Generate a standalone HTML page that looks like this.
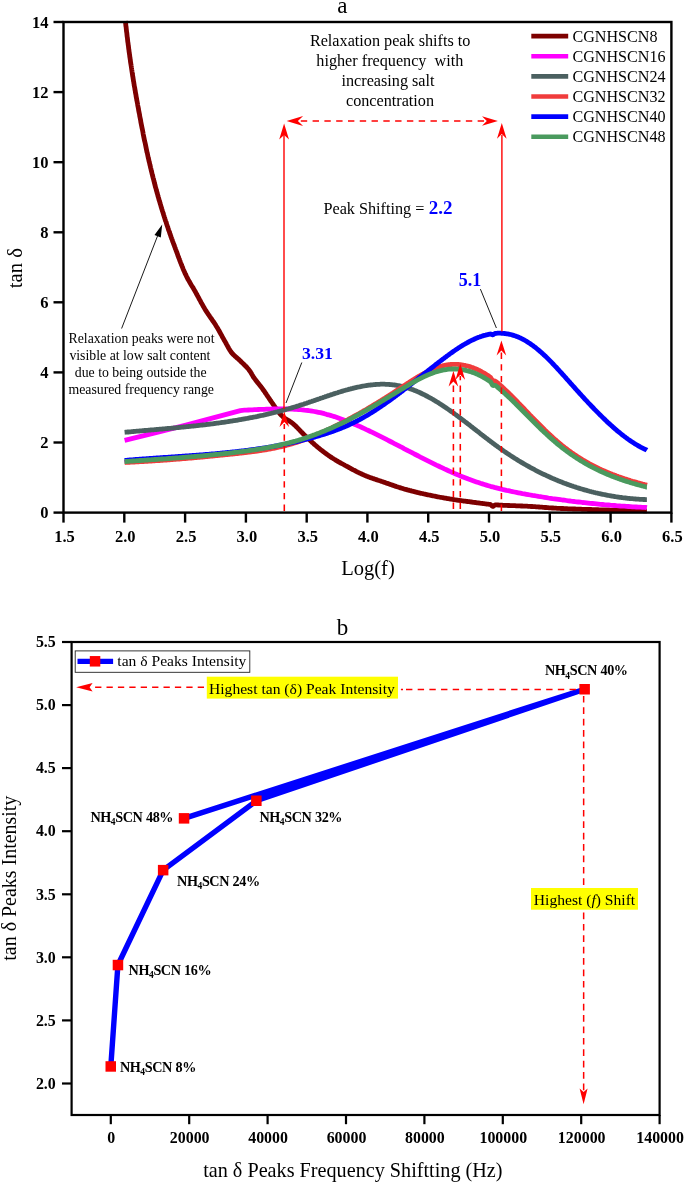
<!DOCTYPE html>
<html><head><meta charset="utf-8"><title>Figure</title>
<style>html,body{margin:0;padding:0;background:#fff}svg{display:block;will-change:transform}</style></head>
<body>
<svg width="685" height="1184" viewBox="0 0 685 1184" font-family="'Liberation Serif', 'Times New Roman', serif">
<rect width="685" height="1184" fill="#fff"/>
<g fill="none" stroke-width="4.8" stroke-linejoin="round" stroke-linecap="butt">
<path d="M125.4,21.0 L125.5,22.0 L125.6,23.0 L125.7,24.0 L125.8,25.0 L125.9,26.0 L126.1,27.0 L126.2,28.0 L126.3,29.0 L126.4,29.9 L126.5,30.9 L126.6,31.9 L126.8,32.9 L126.9,33.9 L127.0,34.9 L127.1,35.9 L127.2,36.9 L127.4,37.9 L127.5,38.9 L127.6,39.9 L127.7,40.9 L127.8,41.9 L128.0,42.9 L128.1,43.8 L128.2,44.8 L128.4,45.8 L128.5,46.8 L128.6,47.8 L128.7,48.8 L128.9,49.8 L129.0,50.8 L129.1,51.8 L129.3,52.8 L129.4,53.8 L129.6,54.7 L129.7,55.7 L129.8,56.7 L130.0,57.7 L130.1,58.7 L130.3,59.7 L130.4,60.7 L130.5,61.7 L130.7,62.7 L130.8,63.7 L131.0,64.6 L131.1,65.6 L131.3,66.6 L131.4,67.6 L131.6,68.6 L131.7,69.6 L131.9,70.6 L132.0,71.6 L132.2,72.6 L132.3,73.5 L132.5,74.5 L132.6,75.5 L132.8,76.5 L133.0,77.5 L133.1,78.5 L133.3,79.5 L133.4,80.5 L133.6,81.4 L133.8,82.4 L133.9,83.4 L134.1,84.4 L134.2,85.4 L134.4,86.4 L134.6,87.4 L134.8,88.3 L134.9,89.3 L135.1,90.3 L135.3,91.3 L135.4,92.3 L135.6,93.3 L135.8,94.3 L136.0,95.2 L136.1,96.2 L136.3,97.2 L136.5,98.2 L136.7,99.2 L136.8,100.2 L137.0,101.1 L137.2,102.1 L137.4,103.1 L137.6,104.1 L137.7,105.1 L137.9,106.1 L138.1,107.0 L138.3,108.0 L138.5,109.0 L138.6,110.0 L138.8,111.0 L139.0,112.0 L139.2,112.9 L139.4,113.9 L139.6,114.9 L139.7,115.9 L139.9,116.9 L140.1,117.9 L140.3,118.8 L140.5,119.8 L140.7,120.8 L140.8,121.8 L141.0,122.8 L141.2,123.8 L141.4,124.7 L141.6,125.7 L141.8,126.7 L142.0,127.7 L142.2,128.7 L142.4,129.6 L142.6,130.6 L142.8,131.6 L143.0,132.6 L143.1,133.6 L143.3,134.6 L143.5,135.5 L143.7,136.5 L143.9,137.5 L144.1,138.5 L144.3,139.5 L144.5,140.4 L144.7,141.4 L145.0,142.4 L145.2,143.4 L145.4,144.3 L145.6,145.3 L145.8,146.3 L146.0,147.3 L146.2,148.3 L146.4,149.2 L146.6,150.2 L146.8,151.2 L147.0,152.2 L147.3,153.1 L147.5,154.1 L147.7,155.1 L147.9,156.1 L148.1,157.1 L148.3,158.0 L148.6,159.0 L148.8,160.0 L149.0,160.9 L149.2,161.9 L149.5,162.9 L149.7,163.9 L149.9,164.8 L150.2,165.8 L150.4,166.8 L150.6,167.8 L150.9,168.7 L151.1,169.7 L151.3,170.7 L151.6,171.7 L151.8,172.6 L152.0,173.6 L152.3,174.6 L152.5,175.5 L152.8,176.5 L153.0,177.5 L153.3,178.4 L153.5,179.4 L153.8,180.4 L154.0,181.3 L154.3,182.3 L154.5,183.3 L154.8,184.3 L155.0,185.2 L155.3,186.2 L155.5,187.2 L155.8,188.1 L156.1,189.1 L156.3,190.0 L156.6,191.0 L156.9,192.0 L157.1,192.9 L157.4,193.9 L157.7,194.9 L157.9,195.8 L158.2,196.8 L158.5,197.7 L158.8,198.7 L159.0,199.7 L159.3,200.6 L159.6,201.6 L159.9,202.5 L160.2,203.5 L160.5,204.5 L160.8,205.4 L161.0,206.4 L161.3,207.3 L161.6,208.3 L161.9,209.3 L162.2,210.2 L162.5,211.2 L162.8,212.1 L163.1,213.1 L163.4,214.0 L163.7,215.0 L164.0,215.9 L164.3,216.9 L164.6,217.8 L164.9,218.8 L165.2,219.7 L165.5,220.7 L165.9,221.6 L166.2,222.6 L166.5,223.5 L166.8,224.5 L167.1,225.4 L167.4,226.4 L167.8,227.3 L168.1,228.3 L168.4,229.2 L168.7,230.2 L169.1,231.1 L169.4,232.1 L169.7,233.0 L170.0,233.9 L170.4,234.9 L170.7,235.8 L171.0,236.8 L171.4,237.7 L171.7,238.7 L172.1,239.6 L172.4,240.5 L172.7,241.5 L173.1,242.4 L173.4,243.4 L173.8,244.3 L174.1,245.2 L174.5,246.2 L174.8,247.1 L175.2,248.0 L175.5,249.0 L175.9,249.9 L176.2,250.9 L176.6,251.8 L176.9,252.7 L177.3,253.7 L177.6,254.6 L177.9,255.6 L178.3,256.5 L178.6,257.4 L179.0,258.4 L179.4,259.3 L179.7,260.3 L180.1,261.2 L180.4,262.1 L180.8,263.1 L181.2,264.0 L181.5,264.9 L181.9,265.9 L182.3,266.8 L182.7,267.7 L183.0,268.6 L183.4,269.6 L183.8,270.5 L184.2,271.4 L184.6,272.3 L185.0,273.2 L185.4,274.1 L185.9,275.0 L186.3,275.9 L186.7,276.8 L187.2,277.7 L187.6,278.6 L188.1,279.5 L188.6,280.3 L189.1,281.2 L189.6,282.1 L190.1,282.9 L190.6,283.8 L191.1,284.7 L191.6,285.5 L192.2,286.4 L192.7,287.2 L193.2,288.1 L193.7,288.9 L194.2,289.8 L194.7,290.7 L195.2,291.6 L195.7,292.4 L196.2,293.3 L196.6,294.2 L197.1,295.1 L197.6,295.9 L198.1,296.8 L198.6,297.7 L199.0,298.6 L199.5,299.5 L200.0,300.3 L200.5,301.2 L200.9,302.1 L201.4,303.0 L201.9,303.8 L202.4,304.7 L202.9,305.6 L203.4,306.5 L203.9,307.3 L204.4,308.2 L204.9,309.0 L205.4,309.9 L205.9,310.7 L206.5,311.6 L207.0,312.4 L207.6,313.2 L208.1,314.1 L208.7,314.9 L209.3,315.7 L209.8,316.5 L210.4,317.4 L211.0,318.2 L211.6,319.0 L212.1,319.8 L212.7,320.7 L213.3,321.5 L213.8,322.3 L214.4,323.1 L215.0,324.0 L215.5,324.8 L216.0,325.7 L216.5,326.5 L217.1,327.4 L217.6,328.2 L218.1,329.1 L218.6,330.0 L219.1,330.8 L219.5,331.7 L220.0,332.6 L220.5,333.4 L221.0,334.3 L221.5,335.2 L222.0,336.1 L222.4,337.0 L222.9,337.8 L223.4,338.7 L223.9,339.6 L224.4,340.5 L224.9,341.3 L225.4,342.2 L225.9,343.1 L226.4,344.0 L226.8,344.8 L227.3,345.7 L227.8,346.6 L228.3,347.5 L228.8,348.4 L229.3,349.2 L229.8,350.1 L230.4,350.9 L230.9,351.7 L231.5,352.5 L232.1,353.3 L232.8,354.0 L233.5,354.7 L234.2,355.4 L234.9,356.1 L235.7,356.8 L236.4,357.4 L237.2,358.1 L238.0,358.8 L238.7,359.4 L239.5,360.1 L240.2,360.8 L240.9,361.5 L241.6,362.2 L242.4,362.9 L243.1,363.6 L243.8,364.3 L244.5,365.0 L245.2,365.7 L246.0,366.4 L246.6,367.1 L247.3,367.9 L248.0,368.6 L248.6,369.4 L249.2,370.2 L249.8,371.0 L250.3,371.8 L250.9,372.6 L251.4,373.5 L251.9,374.4 L252.4,375.2 L252.9,376.1 L253.4,377.0 L254.0,377.8 L254.6,378.6 L255.2,379.4 L255.8,380.2 L256.4,381.0 L257.0,381.8 L257.6,382.6 L258.2,383.3 L258.9,384.1 L259.5,384.9 L260.1,385.7 L260.8,386.5 L261.4,387.3 L262.0,388.0 L262.6,388.9 L263.1,389.7 L263.7,390.5 L264.3,391.3 L264.9,392.1 L265.4,393.0 L266.0,393.8 L266.5,394.6 L267.1,395.5 L267.6,396.3 L268.2,397.1 L268.8,397.9 L269.3,398.8 L269.9,399.6 L270.4,400.4 L271.0,401.3 L271.6,402.1 L272.2,402.9 L272.7,403.7 L273.3,404.5 L273.9,405.4 L274.5,406.2 L275.0,407.0 L275.6,407.9 L276.2,408.7 L276.8,409.6 L277.3,410.4 L277.9,411.2 L278.5,412.0 L279.2,412.8 L279.8,413.5 L280.4,414.3 L281.1,415.0 L281.8,415.7 L282.5,416.3 L283.2,417.0 L284.0,417.6 L284.8,418.2 L285.6,418.7 L286.5,419.3 L287.4,419.8 L288.2,420.4 L289.1,420.9 L289.9,421.4 L290.8,422.0 L291.6,422.6 L292.4,423.2 L293.2,423.8 L293.9,424.5 L294.6,425.1 L295.4,425.8 L296.1,426.5 L296.8,427.2 L297.5,427.9 L298.2,428.6 L298.9,429.4 L299.6,430.1 L300.3,430.8 L301.0,431.6 L301.7,432.3 L302.4,433.0 L303.1,433.7 L303.8,434.4 L304.5,435.1 L305.2,435.8 L306.0,436.5 L306.7,437.2 L307.4,437.9 L308.1,438.6 L308.9,439.2 L309.6,439.9 L310.3,440.6 L311.0,441.3 L311.8,442.0 L312.5,442.7 L313.3,443.3 L314.0,444.0 L314.7,444.7 L315.5,445.3 L316.3,446.0 L317.0,446.6 L317.8,447.3 L318.6,447.9 L319.3,448.5 L320.1,449.2 L320.9,449.8 L321.7,450.4 L322.5,451.0 L323.3,451.6 L324.0,452.2 L324.8,452.8 L325.7,453.4 L326.5,454.0 L327.3,454.6 L328.1,455.2 L328.9,455.8 L329.7,456.3 L330.6,456.9 L331.4,457.4 L332.2,458.0 L333.1,458.5 L333.9,459.0 L334.8,459.5 L335.6,460.1 L336.5,460.6 L337.4,461.1 L338.2,461.6 L339.1,462.1 L340.0,462.6 L340.8,463.1 L341.7,463.5 L342.6,464.0 L343.5,464.5 L344.4,465.0 L345.2,465.5 L346.1,466.0 L347.0,466.4 L347.9,466.9 L348.8,467.4 L349.6,467.9 L350.5,468.3 L351.4,468.8 L352.3,469.3 L353.2,469.8 L354.0,470.2 L354.9,470.7 L355.8,471.2 L356.7,471.6 L357.6,472.1 L358.5,472.5 L359.4,473.0 L360.3,473.4 L361.2,473.8 L362.1,474.2 L363.0,474.6 L363.9,475.0 L364.8,475.4 L365.8,475.8 L366.7,476.2 L367.6,476.5 L368.6,476.9 L369.5,477.3 L370.4,477.6 L371.4,477.9 L372.3,478.3 L373.3,478.6 L374.2,478.9 L375.2,479.2 L376.1,479.6 L377.1,479.9 L378.0,480.2 L379.0,480.5 L379.9,480.8 L380.9,481.1 L381.8,481.5 L382.8,481.8 L383.7,482.1 L384.7,482.4 L385.6,482.8 L386.5,483.1 L387.5,483.4 L388.4,483.7 L389.4,484.1 L390.3,484.4 L391.3,484.7 L392.2,485.1 L393.2,485.4 L394.1,485.7 L395.0,486.1 L396.0,486.4 L396.9,486.7 L397.9,487.0 L398.8,487.3 L399.8,487.6 L400.7,487.9 L401.7,488.2 L402.7,488.5 L403.6,488.8 L404.6,489.1 L405.5,489.3 L406.5,489.6 L407.5,489.9 L408.4,490.1 L409.4,490.4 L410.4,490.6 L411.3,490.9 L412.3,491.2 L413.3,491.4 L414.2,491.6 L415.2,491.9 L416.2,492.1 L417.1,492.4 L418.1,492.6 L419.1,492.8 L420.1,493.1 L421.0,493.3 L422.0,493.5 L423.0,493.7 L424.0,494.0 L424.9,494.2 L425.9,494.4 L426.9,494.6 L427.9,494.8 L428.8,495.0 L429.8,495.2 L430.8,495.4 L431.8,495.6 L432.8,495.8 L433.7,496.0 L434.7,496.2 L435.7,496.4 L436.7,496.6 L437.7,496.8 L438.7,497.0 L439.6,497.2 L440.6,497.3 L441.6,497.5 L442.6,497.7 L443.6,497.9 L444.6,498.1 L445.6,498.2 L446.5,498.4 L447.5,498.6 L448.5,498.7 L449.5,498.9 L450.5,499.1 L451.5,499.2 L452.5,499.4 L453.4,499.5 L454.4,499.7 L455.4,499.8 L456.4,500.0 L457.4,500.1 L458.4,500.3 L459.4,500.4 L460.4,500.6 L461.4,500.7 L462.3,500.8 L463.3,501.0 L464.3,501.1 L465.3,501.2 L466.3,501.4 L467.3,501.5 L468.3,501.6 L469.3,501.7 L470.3,501.9 L471.3,502.0 L472.3,502.1 L473.3,502.3 L474.2,502.4 L475.2,502.5 L476.2,502.6 L477.2,502.8 L478.2,502.9 L479.2,503.0 L480.2,503.2 L481.2,503.3 L482.2,503.4 L483.2,503.6 L484.2,503.7 L485.2,503.8 L486.2,504.0 L487.1,504.1 L488.1,504.2 L489.1,504.3 L490.1,504.4 L491.1,505.0 L492.1,506.0 L493.1,506.4 L494.1,505.6 L495.1,504.8 L496.1,504.9 L497.1,504.9 L498.1,505.0 L499.1,505.1 L500.1,505.1 L501.1,505.2 L502.1,505.2 L503.1,505.3 L504.1,505.3 L505.1,505.3 L506.1,505.4 L507.1,505.4 L508.1,505.5 L509.1,505.5 L510.1,505.6 L511.1,505.6 L512.1,505.6 L513.1,505.7 L514.1,505.7 L515.1,505.7 L516.1,505.8 L517.1,505.8 L518.1,505.9 L519.1,505.9 L520.1,505.9 L521.1,506.0 L522.1,506.0 L523.1,506.1 L524.1,506.1 L525.1,506.1 L526.1,506.2 L527.1,506.2 L528.1,506.3 L529.1,506.3 L530.1,506.4 L531.1,506.5 L532.1,506.5 L533.1,506.6 L534.1,506.7 L535.1,506.7 L536.1,506.8 L537.1,506.9 L538.1,506.9 L539.0,507.0 L540.0,507.1 L541.0,507.2 L542.0,507.2 L543.0,507.3 L544.0,507.4 L545.0,507.5 L546.0,507.5 L547.0,507.6 L548.0,507.7 L549.0,507.8 L550.0,507.8 L551.0,507.9 L552.0,508.0 L553.0,508.0 L554.0,508.1 L555.0,508.2 L556.0,508.2 L557.0,508.3 L558.0,508.3 L559.0,508.4 L560.0,508.4 L561.0,508.5 L562.0,508.5 L563.0,508.5 L564.0,508.6 L565.0,508.6 L566.0,508.7 L567.0,508.7 L568.0,508.8 L569.0,508.8 L570.0,508.8 L571.0,508.9 L572.0,508.9 L573.0,509.0 L574.0,509.0 L575.0,509.0 L576.0,509.1 L577.0,509.1 L578.0,509.1 L579.0,509.2 L580.0,509.2 L581.0,509.2 L582.0,509.3 L583.0,509.3 L584.0,509.3 L585.0,509.4 L586.0,509.4 L587.0,509.4 L588.0,509.5 L589.0,509.5 L590.0,509.5 L591.0,509.5 L592.0,509.6 L593.0,509.6 L594.0,509.6 L595.0,509.7 L596.0,509.7 L597.0,509.7 L598.0,509.7 L599.0,509.8 L600.0,509.8 L601.0,509.8 L602.0,509.9 L603.0,509.9 L604.0,509.9 L605.0,509.9 L606.0,510.0 L607.0,510.0 L608.0,510.0 L609.0,510.0 L610.0,510.1 L611.0,510.1 L612.0,510.1 L613.0,510.1 L614.0,510.2 L615.0,510.2 L616.0,510.2 L617.0,510.2 L618.0,510.3 L619.0,510.3 L620.0,510.3 L621.0,510.3 L622.0,510.3 L623.0,510.4 L624.0,510.4 L625.0,510.4 L626.0,510.4 L627.0,510.4 L628.0,510.5 L629.0,510.5 L630.0,510.5 L631.0,510.5 L632.0,510.6 L633.0,510.6 L634.0,510.6 L635.0,510.6 L636.0,510.6 L637.0,510.6 L638.0,510.7 L639.0,510.7 L640.0,510.7 L641.0,510.7 L642.0,510.7 L643.0,510.7 L644.0,510.8 L645.0,510.8 L646.0,510.8 L646.9,510.8" stroke="#7d0000"/>
<path d="M124.6,440.4 L155.0,432.9 L185.9,425.2 L215.0,417.4 L240.4,410.6 L242.4,410.3 L244.4,410.2 L246.4,410.1 L248.4,410.0 L250.4,409.9 L252.4,409.8 L254.4,409.7 L256.4,409.6 L258.4,409.5 L260.4,409.4 L262.4,409.3 L264.4,409.3 L266.4,409.2 L268.4,409.1 L270.4,409.1 L272.4,409.0 L274.4,409.0 L276.4,409.0 L278.4,409.0 L280.4,409.0 L282.4,409.0 L284.4,409.0 L286.4,409.0 L288.4,409.0 L290.4,409.1 L292.4,409.2 L294.4,409.3 L296.4,409.4 L298.4,409.5 L300.4,409.7 L302.4,409.8 L304.4,410.1 L306.4,410.3 L308.4,410.5 L310.4,410.8 L312.4,411.2 L314.4,411.5 L316.4,411.9 L318.4,412.3 L320.4,412.7 L322.4,413.2 L324.4,413.7 L326.4,414.3 L328.4,414.8 L330.4,415.4 L332.4,416.0 L334.4,416.6 L336.4,417.3 L338.4,418.0 L340.4,418.7 L342.4,419.4 L344.4,420.2 L346.4,420.9 L348.4,421.7 L350.4,422.5 L352.4,423.3 L354.4,424.2 L356.4,425.1 L358.4,425.9 L360.4,426.8 L362.4,427.7 L364.4,428.6 L366.4,429.6 L368.4,430.5 L370.4,431.5 L372.4,432.4 L374.4,433.4 L376.4,434.4 L378.4,435.4 L380.4,436.4 L382.4,437.4 L384.4,438.4 L386.4,439.4 L388.4,440.5 L390.4,441.5 L392.4,442.5 L394.4,443.6 L396.4,444.6 L398.4,445.6 L400.4,446.7 L402.4,447.7 L404.4,448.8 L406.4,449.8 L408.4,450.9 L410.4,451.9 L412.4,452.9 L414.4,454.0 L416.4,455.0 L418.4,456.0 L420.4,457.1 L422.4,458.1 L424.4,459.1 L426.4,460.1 L428.4,461.1 L430.4,462.1 L432.4,463.1 L434.4,464.1 L436.4,465.1 L438.4,466.0 L440.4,467.0 L442.4,467.9 L444.4,468.9 L446.4,469.8 L448.4,470.7 L450.4,471.6 L452.4,472.5 L454.4,473.4 L456.4,474.2 L458.4,475.1 L460.4,475.9 L462.4,476.7 L464.4,477.5 L466.4,478.3 L468.4,479.1 L470.4,479.8 L472.4,480.5 L474.4,481.2 L476.4,481.9 L478.4,482.6 L480.4,483.3 L482.4,483.9 L484.4,484.5 L486.4,485.1 L488.4,485.7 L490.4,486.3 L492.4,486.8 L494.4,487.4 L496.4,487.9 L498.4,488.4 L500.4,488.9 L502.4,489.4 L504.4,489.8 L506.4,490.3 L508.4,490.7 L510.4,491.2 L512.4,491.6 L514.4,492.0 L516.4,492.4 L518.4,492.8 L520.4,493.2 L522.4,493.6 L524.4,493.9 L526.4,494.3 L528.4,494.7 L530.4,495.0 L532.4,495.4 L534.4,495.7 L536.4,496.0 L538.4,496.4 L540.4,496.7 L542.4,497.0 L544.4,497.3 L546.4,497.6 L548.4,498.0 L550.4,498.3 L552.4,498.6 L554.4,498.8 L556.4,499.1 L558.4,499.4 L560.4,499.7 L562.4,500.0 L564.4,500.2 L566.4,500.5 L568.4,500.8 L570.4,501.0 L572.4,501.3 L574.4,501.5 L576.4,501.8 L578.4,502.0 L580.4,502.2 L582.4,502.5 L584.4,502.7 L586.4,502.9 L588.4,503.1 L590.4,503.3 L592.4,503.5 L594.4,503.7 L596.4,503.9 L598.4,504.1 L600.4,504.3 L602.4,504.5 L604.4,504.7 L606.4,504.8 L608.4,505.0 L610.4,505.2 L612.4,505.3 L614.4,505.5 L616.4,505.7 L618.4,505.8 L620.4,506.0 L622.4,506.1 L624.4,506.2 L626.4,506.4 L628.4,506.5 L630.4,506.6 L632.4,506.8 L634.4,506.9 L636.4,507.0 L638.4,507.1 L640.4,507.2 L642.4,507.3 L644.4,507.4 L646.4,507.5 L646.9,507.6" stroke="#ff00ff"/>
<path d="M124.6,432.3 L125.6,432.2 L126.6,432.1 L127.6,432.0 L128.6,432.0 L129.6,431.9 L130.6,431.8 L131.6,431.7 L132.6,431.6 L133.6,431.5 L134.6,431.4 L135.6,431.3 L136.6,431.2 L137.6,431.2 L138.6,431.1 L139.6,431.0 L140.6,430.9 L141.6,430.8 L142.6,430.7 L143.6,430.6 L144.6,430.5 L145.6,430.5 L146.6,430.4 L147.6,430.3 L148.6,430.2 L149.6,430.1 L150.6,430.0 L151.6,429.9 L152.6,429.9 L153.6,429.8 L154.6,429.7 L155.6,429.6 L156.6,429.5 L157.6,429.4 L158.6,429.3 L159.6,429.2 L160.6,429.2 L161.6,429.1 L162.6,429.0 L163.6,428.9 L164.6,428.8 L165.6,428.7 L166.6,428.6 L167.6,428.5 L168.6,428.4 L169.6,428.4 L170.6,428.3 L171.6,428.2 L172.6,428.1 L173.6,428.0 L174.6,427.9 L175.6,427.8 L176.6,427.7 L177.6,427.6 L178.6,427.5 L179.6,427.4 L180.6,427.3 L181.6,427.2 L182.6,427.1 L183.6,427.0 L184.6,426.9 L185.6,426.8 L186.6,426.7 L187.6,426.6 L188.6,426.5 L189.6,426.4 L190.6,426.3 L191.6,426.2 L192.6,426.1 L193.6,426.0 L194.6,425.9 L195.6,425.8 L196.6,425.7 L197.6,425.6 L198.6,425.4 L199.6,425.3 L200.6,425.2 L201.6,425.1 L202.6,425.0 L203.6,424.9 L204.6,424.8 L205.6,424.6 L206.6,424.5 L207.6,424.4 L208.6,424.3 L209.6,424.1 L210.6,424.0 L211.6,423.9 L212.6,423.8 L213.6,423.6 L214.6,423.5 L215.6,423.4 L216.6,423.2 L217.6,423.1 L218.6,423.0 L219.6,422.8 L220.6,422.7 L221.6,422.5 L222.6,422.4 L223.6,422.3 L224.6,422.1 L225.6,422.0 L226.6,421.8 L227.6,421.7 L228.6,421.5 L229.6,421.4 L230.6,421.2 L231.6,421.1 L232.6,420.9 L233.6,420.7 L234.6,420.6 L235.6,420.4 L236.6,420.3 L237.6,420.1 L238.6,419.9 L239.6,419.7 L240.6,419.6 L241.6,419.4 L242.6,419.2 L243.6,419.0 L244.6,418.9 L245.6,418.7 L246.6,418.5 L247.6,418.3 L248.6,418.1 L249.6,417.9 L250.6,417.7 L251.6,417.6 L252.6,417.4 L253.6,417.2 L254.6,417.0 L255.6,416.8 L256.6,416.6 L257.6,416.4 L258.6,416.1 L259.6,415.9 L260.6,415.7 L261.6,415.5 L262.6,415.3 L263.6,415.1 L264.6,414.8 L265.6,414.6 L266.6,414.4 L267.6,414.2 L268.6,413.9 L269.6,413.7 L270.6,413.5 L271.6,413.2 L272.6,413.0 L273.6,412.7 L274.6,412.5 L275.6,412.2 L276.6,412.0 L277.6,411.7 L278.6,411.5 L279.6,411.2 L280.6,411.0 L281.6,410.7 L282.6,410.4 L283.6,410.2 L284.6,409.9 L285.6,409.6 L286.6,409.3 L287.6,409.0 L288.6,408.8 L289.6,408.5 L290.6,408.2 L291.6,407.9 L292.6,407.6 L293.6,407.3 L294.6,407.0 L295.6,406.7 L296.6,406.4 L297.6,406.1 L298.6,405.8 L299.6,405.4 L300.6,405.1 L301.6,404.8 L302.6,404.5 L303.6,404.2 L304.6,403.8 L305.6,403.5 L306.6,403.2 L307.6,402.8 L308.6,402.5 L309.6,402.1 L310.6,401.8 L311.6,401.5 L312.6,401.1 L313.6,400.8 L314.6,400.4 L315.6,400.1 L316.6,399.7 L317.6,399.4 L318.6,399.0 L319.6,398.7 L320.6,398.3 L321.6,398.0 L322.6,397.7 L323.6,397.3 L324.6,397.0 L325.6,396.6 L326.6,396.3 L327.6,395.9 L328.6,395.6 L329.6,395.3 L330.6,394.9 L331.6,394.6 L332.6,394.3 L333.6,393.9 L334.6,393.6 L335.6,393.3 L336.6,393.0 L337.6,392.7 L338.6,392.3 L339.6,392.0 L340.6,391.7 L341.6,391.4 L342.6,391.1 L343.6,390.8 L344.6,390.5 L345.6,390.2 L346.6,390.0 L347.6,389.7 L348.6,389.4 L349.6,389.1 L350.6,388.9 L351.6,388.6 L352.6,388.4 L353.6,388.1 L354.6,387.9 L355.6,387.7 L356.6,387.4 L357.6,387.2 L358.6,387.0 L359.6,386.8 L360.6,386.6 L361.6,386.4 L362.6,386.2 L363.6,386.0 L364.6,385.8 L365.6,385.7 L366.6,385.5 L367.6,385.4 L368.6,385.2 L369.6,385.1 L370.6,385.0 L371.6,384.9 L372.6,384.8 L373.6,384.7 L374.6,384.6 L375.6,384.5 L376.6,384.4 L377.6,384.4 L378.6,384.3 L379.6,384.3 L380.6,384.2 L381.6,384.2 L382.6,384.2 L383.6,384.2 L384.6,384.2 L385.6,384.3 L386.6,384.3 L387.6,384.3 L388.6,384.4 L389.6,384.5 L390.6,384.6 L391.6,384.6 L392.6,384.8 L393.6,384.9 L394.6,385.0 L395.6,385.1 L396.6,385.3 L397.6,385.5 L398.6,385.7 L399.6,385.9 L400.6,386.1 L401.6,386.3 L402.6,386.5 L403.6,386.8 L404.6,387.0 L405.6,387.3 L406.6,387.6 L407.6,387.9 L408.6,388.2 L409.6,388.6 L410.6,388.9 L411.6,389.3 L412.6,389.6 L413.6,390.0 L414.6,390.4 L415.6,390.8 L416.6,391.2 L417.6,391.7 L418.6,392.1 L419.6,392.5 L420.6,393.0 L421.6,393.5 L422.6,394.0 L423.6,394.4 L424.6,394.9 L425.6,395.5 L426.6,396.0 L427.6,396.5 L428.6,397.1 L429.6,397.6 L430.6,398.2 L431.6,398.7 L432.6,399.3 L433.6,399.9 L434.6,400.5 L435.6,401.1 L436.6,401.7 L437.6,402.3 L438.6,402.9 L439.6,403.6 L440.6,404.2 L441.6,404.9 L442.6,405.5 L443.6,406.2 L444.6,406.9 L445.6,407.5 L446.6,408.2 L447.6,408.9 L448.6,409.6 L449.6,410.3 L450.6,411.0 L451.6,411.7 L452.6,412.4 L453.6,413.1 L454.6,413.9 L455.6,414.6 L456.6,415.3 L457.6,416.1 L458.6,416.8 L459.6,417.6 L460.6,418.3 L461.6,419.1 L462.6,419.8 L463.6,420.6 L464.6,421.4 L465.6,422.1 L466.6,422.9 L467.6,423.7 L468.6,424.4 L469.6,425.2 L470.6,426.0 L471.6,426.8 L472.6,427.5 L473.6,428.3 L474.6,429.1 L475.6,429.9 L476.6,430.7 L477.6,431.4 L478.6,432.2 L479.6,433.0 L480.6,433.8 L481.6,434.6 L482.6,435.3 L483.6,436.1 L484.6,436.9 L485.6,437.7 L486.6,438.4 L487.6,439.2 L488.6,440.0 L489.6,440.7 L490.6,441.5 L491.6,442.2 L492.6,443.0 L493.6,443.7 L494.6,444.5 L495.6,445.2 L496.6,445.9 L497.6,446.7 L498.6,447.4 L499.6,448.1 L500.6,448.8 L501.6,449.5 L502.6,450.2 L503.6,450.9 L504.6,451.6 L505.6,452.3 L506.6,453.0 L507.6,453.6 L508.6,454.3 L509.6,454.9 L510.6,455.6 L511.6,456.3 L512.6,456.9 L513.6,457.5 L514.6,458.2 L515.6,458.8 L516.6,459.4 L517.6,460.0 L518.6,460.7 L519.6,461.3 L520.6,461.9 L521.6,462.5 L522.6,463.0 L523.6,463.6 L524.6,464.2 L525.6,464.8 L526.6,465.4 L527.6,465.9 L528.6,466.5 L529.6,467.0 L530.6,467.6 L531.6,468.1 L532.6,468.7 L533.6,469.2 L534.6,469.7 L535.6,470.3 L536.6,470.8 L537.6,471.3 L538.6,471.8 L539.6,472.3 L540.6,472.8 L541.6,473.3 L542.6,473.8 L543.6,474.3 L544.6,474.7 L545.6,475.2 L546.6,475.7 L547.6,476.1 L548.6,476.6 L549.6,477.0 L550.6,477.5 L551.6,477.9 L552.6,478.4 L553.6,478.8 L554.6,479.2 L555.6,479.7 L556.6,480.1 L557.6,480.5 L558.6,480.9 L559.6,481.3 L560.6,481.7 L561.6,482.1 L562.6,482.5 L563.6,482.9 L564.6,483.3 L565.6,483.6 L566.6,484.0 L567.6,484.4 L568.6,484.7 L569.6,485.1 L570.6,485.4 L571.6,485.8 L572.6,486.1 L573.6,486.5 L574.6,486.8 L575.6,487.1 L576.6,487.5 L577.6,487.8 L578.6,488.1 L579.6,488.4 L580.6,488.7 L581.6,489.0 L582.6,489.3 L583.6,489.6 L584.6,489.9 L585.6,490.2 L586.6,490.4 L587.6,490.7 L588.6,491.0 L589.6,491.3 L590.6,491.5 L591.6,491.8 L592.6,492.0 L593.6,492.3 L594.6,492.5 L595.6,492.8 L596.6,493.0 L597.6,493.2 L598.6,493.5 L599.6,493.7 L600.6,493.9 L601.6,494.1 L602.6,494.3 L603.6,494.5 L604.6,494.7 L605.6,494.9 L606.6,495.1 L607.6,495.3 L608.6,495.5 L609.6,495.7 L610.6,495.9 L611.6,496.0 L612.6,496.2 L613.6,496.4 L614.6,496.5 L615.6,496.7 L616.6,496.8 L617.6,497.0 L618.6,497.1 L619.6,497.3 L620.6,497.4 L621.6,497.5 L622.6,497.7 L623.6,497.8 L624.6,497.9 L625.6,498.0 L626.6,498.1 L627.6,498.3 L628.6,498.4 L629.6,498.5 L630.6,498.6 L631.6,498.6 L632.6,498.7 L633.6,498.8 L634.6,498.9 L635.6,499.0 L636.6,499.1 L637.6,499.1 L638.6,499.2 L639.6,499.3 L640.6,499.3 L641.6,499.4 L642.6,499.4 L643.6,499.5 L644.6,499.5 L645.6,499.6 L646.6,499.6 L646.9,499.6" stroke="#4b6060"/>
<path d="M124.6,462.5 L125.6,462.4 L126.6,462.4 L127.6,462.4 L128.6,462.3 L129.6,462.3 L130.6,462.2 L131.6,462.2 L132.6,462.1 L133.6,462.1 L134.6,462.0 L135.6,461.9 L136.6,461.9 L137.6,461.8 L138.6,461.8 L139.6,461.7 L140.6,461.7 L141.6,461.6 L142.6,461.6 L143.6,461.5 L144.6,461.4 L145.6,461.4 L146.6,461.3 L147.6,461.3 L148.6,461.2 L149.6,461.1 L150.6,461.1 L151.6,461.0 L152.6,460.9 L153.6,460.9 L154.6,460.8 L155.6,460.7 L156.6,460.7 L157.6,460.6 L158.6,460.5 L159.6,460.5 L160.6,460.4 L161.6,460.3 L162.6,460.3 L163.6,460.2 L164.6,460.1 L165.6,460.0 L166.6,460.0 L167.6,459.9 L168.6,459.8 L169.6,459.8 L170.6,459.7 L171.6,459.6 L172.6,459.5 L173.6,459.4 L174.6,459.4 L175.6,459.3 L176.6,459.2 L177.6,459.1 L178.6,459.1 L179.6,459.0 L180.6,458.9 L181.6,458.8 L182.6,458.7 L183.6,458.6 L184.6,458.6 L185.6,458.5 L186.6,458.4 L187.6,458.3 L188.6,458.2 L189.6,458.1 L190.6,458.1 L191.6,458.0 L192.6,457.9 L193.6,457.8 L194.6,457.7 L195.6,457.6 L196.6,457.5 L197.6,457.4 L198.6,457.3 L199.6,457.3 L200.6,457.2 L201.6,457.1 L202.6,457.0 L203.6,456.9 L204.6,456.8 L205.6,456.7 L206.6,456.6 L207.6,456.5 L208.6,456.4 L209.6,456.3 L210.6,456.2 L211.6,456.1 L212.6,456.0 L213.6,455.9 L214.6,455.8 L215.6,455.7 L216.6,455.6 L217.6,455.5 L218.6,455.4 L219.6,455.3 L220.6,455.2 L221.6,455.1 L222.6,455.0 L223.6,454.9 L224.6,454.8 L225.6,454.7 L226.6,454.6 L227.6,454.5 L228.6,454.4 L229.6,454.3 L230.6,454.2 L231.6,454.1 L232.6,454.0 L233.6,453.9 L234.6,453.8 L235.6,453.7 L236.6,453.6 L237.6,453.5 L238.6,453.4 L239.6,453.2 L240.6,453.1 L241.6,453.0 L242.6,452.9 L243.6,452.8 L244.6,452.7 L245.6,452.6 L246.6,452.4 L247.6,452.3 L248.6,452.2 L249.6,452.1 L250.6,451.9 L251.6,451.8 L252.6,451.7 L253.6,451.6 L254.6,451.4 L255.6,451.3 L256.6,451.1 L257.6,451.0 L258.6,450.9 L259.6,450.7 L260.6,450.6 L261.6,450.4 L262.6,450.2 L263.6,450.1 L264.6,449.9 L265.6,449.8 L266.6,449.6 L267.6,449.4 L268.6,449.2 L269.6,449.1 L270.6,448.9 L271.6,448.7 L272.6,448.5 L273.6,448.3 L274.6,448.1 L275.6,447.9 L276.6,447.7 L277.6,447.5 L278.6,447.2 L279.6,447.0 L280.6,446.8 L281.6,446.6 L282.6,446.3 L283.6,446.1 L284.6,445.8 L285.6,445.6 L286.6,445.3 L287.6,445.0 L288.6,444.8 L289.6,444.5 L290.6,444.2 L291.6,443.9 L292.6,443.6 L293.6,443.3 L294.6,443.0 L295.6,442.7 L296.6,442.4 L297.6,442.1 L298.6,441.7 L299.6,441.4 L300.6,441.0 L301.6,440.7 L302.6,440.3 L303.6,440.0 L304.6,439.6 L305.6,439.2 L306.6,438.8 L307.6,438.4 L308.6,438.1 L309.6,437.7 L310.6,437.2 L311.6,436.8 L312.6,436.4 L313.6,436.0 L314.6,435.6 L315.6,435.2 L316.6,434.7 L317.6,434.3 L318.6,433.8 L319.6,433.4 L320.6,433.0 L321.6,432.5 L322.6,432.1 L323.6,431.6 L324.6,431.1 L325.6,430.7 L326.6,430.2 L327.6,429.8 L328.6,429.3 L329.6,428.8 L330.6,428.3 L331.6,427.9 L332.6,427.4 L333.6,426.9 L334.6,426.4 L335.6,425.9 L336.6,425.4 L337.6,424.9 L338.6,424.4 L339.6,423.9 L340.6,423.4 L341.6,422.9 L342.6,422.4 L343.6,421.9 L344.6,421.3 L345.6,420.8 L346.6,420.3 L347.6,419.8 L348.6,419.2 L349.6,418.7 L350.6,418.2 L351.6,417.6 L352.6,417.1 L353.6,416.5 L354.6,416.0 L355.6,415.4 L356.6,414.9 L357.6,414.3 L358.6,413.8 L359.6,413.2 L360.6,412.6 L361.6,412.1 L362.6,411.5 L363.6,410.9 L364.6,410.3 L365.6,409.8 L366.6,409.2 L367.6,408.6 L368.6,408.0 L369.6,407.4 L370.6,406.8 L371.6,406.2 L372.6,405.6 L373.6,405.0 L374.6,404.4 L375.6,403.8 L376.6,403.2 L377.6,402.6 L378.6,402.0 L379.6,401.4 L380.6,400.8 L381.6,400.1 L382.6,399.5 L383.6,398.9 L384.6,398.3 L385.6,397.6 L386.6,397.0 L387.6,396.4 L388.6,395.7 L389.6,395.1 L390.6,394.5 L391.6,393.8 L392.6,393.2 L393.6,392.5 L394.6,391.9 L395.6,391.2 L396.6,390.5 L397.6,389.9 L398.6,389.2 L399.6,388.6 L400.6,387.9 L401.6,387.2 L402.6,386.6 L403.6,385.9 L404.6,385.3 L405.6,384.6 L406.6,384.0 L407.6,383.3 L408.6,382.7 L409.6,382.0 L410.6,381.4 L411.6,380.7 L412.6,380.1 L413.6,379.5 L414.6,378.9 L415.6,378.2 L416.6,377.6 L417.6,377.0 L418.6,376.4 L419.6,375.9 L420.6,375.3 L421.6,374.7 L422.6,374.2 L423.6,373.6 L424.6,373.1 L425.6,372.6 L426.6,372.1 L427.6,371.6 L428.6,371.1 L429.6,370.6 L430.6,370.1 L431.6,369.7 L432.6,369.3 L433.6,368.9 L434.6,368.5 L435.6,368.1 L436.6,367.7 L437.6,367.4 L438.6,367.0 L439.6,366.7 L440.6,366.4 L441.6,366.1 L442.6,365.9 L443.6,365.6 L444.6,365.4 L445.6,365.2 L446.6,365.0 L447.6,364.9 L448.6,364.7 L449.6,364.6 L450.6,364.5 L451.6,364.5 L452.6,364.4 L453.6,364.4 L454.6,364.4 L455.6,364.4 L456.6,364.4 L457.6,364.4 L458.6,364.5 L459.6,364.6 L460.6,364.7 L461.6,364.8 L462.6,365.0 L463.6,365.2 L464.6,365.3 L465.6,365.6 L466.6,365.8 L467.6,366.0 L468.6,366.3 L469.6,366.6 L470.6,366.9 L471.6,367.3 L472.6,367.6 L473.6,368.0 L474.6,368.4 L475.6,368.8 L476.6,369.2 L477.6,369.7 L478.6,370.2 L479.6,370.6 L480.6,371.2 L481.6,371.7 L482.6,372.3 L483.6,372.8 L484.6,373.4 L485.6,374.0 L486.6,374.7 L487.6,375.3 L488.6,376.0 L489.6,376.7 L490.6,377.4 L491.6,379.0 L492.6,380.5 L493.6,380.8 L494.6,380.8 L495.6,381.3 L496.6,382.1 L497.6,382.9 L498.6,383.8 L499.6,384.6 L500.6,385.5 L501.6,386.4 L502.6,387.3 L503.6,388.2 L504.6,389.2 L505.6,390.1 L506.6,391.1 L507.6,392.0 L508.6,393.0 L509.6,394.0 L510.6,394.9 L511.6,395.9 L512.6,396.9 L513.6,398.0 L514.6,399.0 L515.6,400.0 L516.6,401.0 L517.6,402.0 L518.6,403.1 L519.6,404.1 L520.6,405.2 L521.6,406.2 L522.6,407.3 L523.6,408.3 L524.6,409.3 L525.6,410.4 L526.6,411.4 L527.6,412.5 L528.6,413.5 L529.6,414.6 L530.6,415.6 L531.6,416.7 L532.6,417.7 L533.6,418.7 L534.6,419.7 L535.6,420.8 L536.6,421.8 L537.6,422.8 L538.6,423.8 L539.6,424.8 L540.6,425.8 L541.6,426.8 L542.6,427.8 L543.6,428.8 L544.6,429.8 L545.6,430.7 L546.6,431.7 L547.6,432.6 L548.6,433.6 L549.6,434.5 L550.6,435.4 L551.6,436.4 L552.6,437.3 L553.6,438.2 L554.6,439.1 L555.6,439.9 L556.6,440.8 L557.6,441.7 L558.6,442.5 L559.6,443.4 L560.6,444.2 L561.6,445.0 L562.6,445.8 L563.6,446.6 L564.6,447.4 L565.6,448.1 L566.6,448.9 L567.6,449.7 L568.6,450.4 L569.6,451.1 L570.6,451.8 L571.6,452.6 L572.6,453.3 L573.6,453.9 L574.6,454.6 L575.6,455.3 L576.6,456.0 L577.6,456.6 L578.6,457.3 L579.6,457.9 L580.6,458.5 L581.6,459.1 L582.6,459.8 L583.6,460.4 L584.6,460.9 L585.6,461.5 L586.6,462.1 L587.6,462.7 L588.6,463.2 L589.6,463.8 L590.6,464.3 L591.6,464.9 L592.6,465.4 L593.6,465.9 L594.6,466.4 L595.6,466.9 L596.6,467.4 L597.6,467.9 L598.6,468.4 L599.6,468.9 L600.6,469.3 L601.6,469.8 L602.6,470.3 L603.6,470.7 L604.6,471.1 L605.6,471.6 L606.6,472.0 L607.6,472.4 L608.6,472.8 L609.6,473.3 L610.6,473.7 L611.6,474.1 L612.6,474.5 L613.6,474.8 L614.6,475.2 L615.6,475.6 L616.6,476.0 L617.6,476.3 L618.6,476.7 L619.6,477.0 L620.6,477.4 L621.6,477.7 L622.6,478.1 L623.6,478.4 L624.6,478.8 L625.6,479.1 L626.6,479.4 L627.6,479.7 L628.6,480.0 L629.6,480.3 L630.6,480.7 L631.6,481.0 L632.6,481.3 L633.6,481.5 L634.6,481.8 L635.6,482.1 L636.6,482.4 L637.6,482.7 L638.6,483.0 L639.6,483.2 L640.6,483.5 L641.6,483.8 L642.6,484.1 L643.6,484.3 L644.6,484.6 L645.6,484.8 L646.6,485.1 L646.9,485.2" stroke="#f03c3c"/>
<path d="M124.6,460.4 L125.6,460.3 L126.6,460.3 L127.6,460.2 L128.6,460.1 L129.6,460.0 L130.6,459.9 L131.6,459.8 L132.6,459.8 L133.6,459.7 L134.6,459.6 L135.6,459.5 L136.6,459.4 L137.6,459.4 L138.6,459.3 L139.6,459.2 L140.6,459.1 L141.6,459.1 L142.6,459.0 L143.6,458.9 L144.6,458.8 L145.6,458.8 L146.6,458.7 L147.6,458.6 L148.6,458.6 L149.6,458.5 L150.6,458.4 L151.6,458.3 L152.6,458.3 L153.6,458.2 L154.6,458.1 L155.6,458.1 L156.6,458.0 L157.6,457.9 L158.6,457.9 L159.6,457.8 L160.6,457.7 L161.6,457.7 L162.6,457.6 L163.6,457.5 L164.6,457.5 L165.6,457.4 L166.6,457.3 L167.6,457.3 L168.6,457.2 L169.6,457.1 L170.6,457.1 L171.6,457.0 L172.6,456.9 L173.6,456.9 L174.6,456.8 L175.6,456.7 L176.6,456.6 L177.6,456.6 L178.6,456.5 L179.6,456.4 L180.6,456.4 L181.6,456.3 L182.6,456.2 L183.6,456.2 L184.6,456.1 L185.6,456.0 L186.6,456.0 L187.6,455.9 L188.6,455.8 L189.6,455.7 L190.6,455.7 L191.6,455.6 L192.6,455.5 L193.6,455.5 L194.6,455.4 L195.6,455.3 L196.6,455.2 L197.6,455.2 L198.6,455.1 L199.6,455.0 L200.6,454.9 L201.6,454.9 L202.6,454.8 L203.6,454.7 L204.6,454.6 L205.6,454.5 L206.6,454.5 L207.6,454.4 L208.6,454.3 L209.6,454.2 L210.6,454.1 L211.6,454.0 L212.6,454.0 L213.6,453.9 L214.6,453.8 L215.6,453.7 L216.6,453.6 L217.6,453.5 L218.6,453.4 L219.6,453.3 L220.6,453.2 L221.6,453.1 L222.6,453.0 L223.6,452.9 L224.6,452.8 L225.6,452.7 L226.6,452.6 L227.6,452.5 L228.6,452.4 L229.6,452.3 L230.6,452.2 L231.6,452.1 L232.6,452.0 L233.6,451.9 L234.6,451.8 L235.6,451.7 L236.6,451.6 L237.6,451.5 L238.6,451.4 L239.6,451.2 L240.6,451.1 L241.6,451.0 L242.6,450.9 L243.6,450.8 L244.6,450.6 L245.6,450.5 L246.6,450.4 L247.6,450.3 L248.6,450.1 L249.6,450.0 L250.6,449.9 L251.6,449.7 L252.6,449.6 L253.6,449.4 L254.6,449.3 L255.6,449.2 L256.6,449.0 L257.6,448.9 L258.6,448.7 L259.6,448.6 L260.6,448.4 L261.6,448.3 L262.6,448.1 L263.6,448.0 L264.6,447.8 L265.6,447.7 L266.6,447.5 L267.6,447.3 L268.6,447.2 L269.6,447.0 L270.6,446.8 L271.6,446.7 L272.6,446.5 L273.6,446.3 L274.6,446.1 L275.6,445.9 L276.6,445.8 L277.6,445.6 L278.6,445.4 L279.6,445.2 L280.6,445.0 L281.6,444.8 L282.6,444.6 L283.6,444.4 L284.6,444.2 L285.6,444.0 L286.6,443.8 L287.6,443.6 L288.6,443.4 L289.6,443.2 L290.6,443.0 L291.6,442.8 L292.6,442.5 L293.6,442.3 L294.6,442.1 L295.6,441.9 L296.6,441.6 L297.6,441.4 L298.6,441.2 L299.6,440.9 L300.6,440.7 L301.6,440.5 L302.6,440.2 L303.6,440.0 L304.6,439.7 L305.6,439.5 L306.6,439.2 L307.6,438.9 L308.6,438.7 L309.6,438.4 L310.6,438.2 L311.6,437.9 L312.6,437.6 L313.6,437.3 L314.6,437.1 L315.6,436.8 L316.6,436.5 L317.6,436.2 L318.6,435.9 L319.6,435.6 L320.6,435.3 L321.6,435.0 L322.6,434.7 L323.6,434.4 L324.6,434.1 L325.6,433.8 L326.6,433.4 L327.6,433.1 L328.6,432.8 L329.6,432.5 L330.6,432.1 L331.6,431.8 L332.6,431.4 L333.6,431.1 L334.6,430.7 L335.6,430.3 L336.6,430.0 L337.6,429.6 L338.6,429.2 L339.6,428.8 L340.6,428.4 L341.6,428.0 L342.6,427.6 L343.6,427.2 L344.6,426.8 L345.6,426.3 L346.6,425.9 L347.6,425.5 L348.6,425.0 L349.6,424.5 L350.6,424.1 L351.6,423.6 L352.6,423.1 L353.6,422.7 L354.6,422.2 L355.6,421.7 L356.6,421.2 L357.6,420.6 L358.6,420.1 L359.6,419.6 L360.6,419.0 L361.6,418.5 L362.6,417.9 L363.6,417.4 L364.6,416.8 L365.6,416.2 L366.6,415.6 L367.6,415.1 L368.6,414.5 L369.6,413.8 L370.6,413.2 L371.6,412.6 L372.6,412.0 L373.6,411.4 L374.6,410.7 L375.6,410.1 L376.6,409.4 L377.6,408.8 L378.6,408.1 L379.6,407.4 L380.6,406.8 L381.6,406.1 L382.6,405.4 L383.6,404.7 L384.6,404.0 L385.6,403.3 L386.6,402.6 L387.6,401.9 L388.6,401.2 L389.6,400.5 L390.6,399.8 L391.6,399.0 L392.6,398.3 L393.6,397.6 L394.6,396.8 L395.6,396.1 L396.6,395.3 L397.6,394.6 L398.6,393.8 L399.6,393.1 L400.6,392.3 L401.6,391.6 L402.6,390.8 L403.6,390.0 L404.6,389.2 L405.6,388.5 L406.6,387.7 L407.6,386.9 L408.6,386.1 L409.6,385.4 L410.6,384.6 L411.6,383.8 L412.6,383.0 L413.6,382.2 L414.6,381.4 L415.6,380.6 L416.6,379.8 L417.6,379.0 L418.6,378.2 L419.6,377.4 L420.6,376.6 L421.6,375.8 L422.6,375.0 L423.6,374.2 L424.6,373.4 L425.6,372.6 L426.6,371.8 L427.6,371.0 L428.6,370.2 L429.6,369.5 L430.6,368.7 L431.6,367.9 L432.6,367.1 L433.6,366.3 L434.6,365.5 L435.6,364.7 L436.6,363.9 L437.6,363.2 L438.6,362.4 L439.6,361.6 L440.6,360.9 L441.6,360.1 L442.6,359.3 L443.6,358.6 L444.6,357.8 L445.6,357.1 L446.6,356.3 L447.6,355.6 L448.6,354.9 L449.6,354.1 L450.6,353.4 L451.6,352.7 L452.6,352.0 L453.6,351.3 L454.6,350.6 L455.6,349.9 L456.6,349.2 L457.6,348.6 L458.6,347.9 L459.6,347.3 L460.6,346.6 L461.6,346.0 L462.6,345.4 L463.6,344.8 L464.6,344.2 L465.6,343.6 L466.6,343.1 L467.6,342.5 L468.6,342.0 L469.6,341.4 L470.6,340.9 L471.6,340.4 L472.6,339.9 L473.6,339.5 L474.6,339.0 L475.6,338.6 L476.6,338.1 L477.6,337.7 L478.6,337.3 L479.6,337.0 L480.6,336.6 L481.6,336.3 L482.6,335.9 L483.6,335.6 L484.6,335.3 L485.6,335.1 L486.6,334.8 L487.6,334.6 L488.6,334.4 L489.6,334.2 L490.6,334.0 L491.6,334.4 L492.6,334.8 L493.6,334.4 L494.6,333.7 L495.6,333.3 L496.6,333.3 L497.6,333.2 L498.6,333.2 L499.6,333.2 L500.6,333.2 L501.6,333.3 L502.6,333.3 L503.6,333.4 L504.6,333.5 L505.6,333.6 L506.6,333.8 L507.6,333.9 L508.6,334.1 L509.6,334.3 L510.6,334.5 L511.6,334.8 L512.6,335.1 L513.6,335.4 L514.6,335.7 L515.6,336.0 L516.6,336.4 L517.6,336.8 L518.6,337.2 L519.6,337.7 L520.6,338.1 L521.6,338.6 L522.6,339.1 L523.6,339.7 L524.6,340.2 L525.6,340.8 L526.6,341.4 L527.6,342.0 L528.6,342.7 L529.6,343.3 L530.6,344.0 L531.6,344.7 L532.6,345.4 L533.6,346.2 L534.6,346.9 L535.6,347.7 L536.6,348.5 L537.6,349.3 L538.6,350.1 L539.6,351.0 L540.6,351.9 L541.6,352.7 L542.6,353.6 L543.6,354.6 L544.6,355.5 L545.6,356.4 L546.6,357.4 L547.6,358.4 L548.6,359.4 L549.6,360.4 L550.6,361.4 L551.6,362.4 L552.6,363.5 L553.6,364.5 L554.6,365.6 L555.6,366.6 L556.6,367.7 L557.6,368.8 L558.6,369.9 L559.6,371.0 L560.6,372.1 L561.6,373.2 L562.6,374.3 L563.6,375.4 L564.6,376.5 L565.6,377.6 L566.6,378.8 L567.6,379.9 L568.6,381.0 L569.6,382.1 L570.6,383.3 L571.6,384.4 L572.6,385.5 L573.6,386.6 L574.6,387.7 L575.6,388.9 L576.6,390.0 L577.6,391.1 L578.6,392.2 L579.6,393.3 L580.6,394.4 L581.6,395.5 L582.6,396.6 L583.6,397.7 L584.6,398.8 L585.6,399.9 L586.6,400.9 L587.6,402.0 L588.6,403.1 L589.6,404.1 L590.6,405.2 L591.6,406.3 L592.6,407.3 L593.6,408.3 L594.6,409.4 L595.6,410.4 L596.6,411.4 L597.6,412.4 L598.6,413.4 L599.6,414.5 L600.6,415.4 L601.6,416.4 L602.6,417.4 L603.6,418.4 L604.6,419.3 L605.6,420.3 L606.6,421.2 L607.6,422.2 L608.6,423.1 L609.6,424.0 L610.6,424.9 L611.6,425.9 L612.6,426.7 L613.6,427.6 L614.6,428.5 L615.6,429.4 L616.6,430.2 L617.6,431.1 L618.6,431.9 L619.6,432.7 L620.6,433.5 L621.6,434.3 L622.6,435.1 L623.6,435.9 L624.6,436.6 L625.6,437.4 L626.6,438.1 L627.6,438.9 L628.6,439.6 L629.6,440.3 L630.6,441.0 L631.6,441.6 L632.6,442.3 L633.6,442.9 L634.6,443.6 L635.6,444.2 L636.6,444.8 L637.6,445.4 L638.6,446.0 L639.6,446.5 L640.6,447.1 L641.6,447.6 L642.6,448.1 L643.6,448.6 L644.6,449.1 L645.6,449.6 L646.6,450.0 L646.9,450.2" stroke="#0000ff"/>
<path d="M124.6,461.5 L125.6,461.5 L126.6,461.4 L127.6,461.3 L128.6,461.3 L129.6,461.2 L130.6,461.1 L131.6,461.1 L132.6,461.0 L133.6,460.9 L134.6,460.9 L135.6,460.8 L136.6,460.7 L137.6,460.7 L138.6,460.6 L139.6,460.5 L140.6,460.5 L141.6,460.4 L142.6,460.3 L143.6,460.3 L144.6,460.2 L145.6,460.1 L146.6,460.1 L147.6,460.0 L148.6,459.9 L149.6,459.9 L150.6,459.8 L151.6,459.7 L152.6,459.7 L153.6,459.6 L154.6,459.5 L155.6,459.5 L156.6,459.4 L157.6,459.3 L158.6,459.2 L159.6,459.2 L160.6,459.1 L161.6,459.0 L162.6,459.0 L163.6,458.9 L164.6,458.8 L165.6,458.8 L166.6,458.7 L167.6,458.6 L168.6,458.5 L169.6,458.5 L170.6,458.4 L171.6,458.3 L172.6,458.2 L173.6,458.2 L174.6,458.1 L175.6,458.0 L176.6,457.9 L177.6,457.9 L178.6,457.8 L179.6,457.7 L180.6,457.6 L181.6,457.6 L182.6,457.5 L183.6,457.4 L184.6,457.3 L185.6,457.2 L186.6,457.2 L187.6,457.1 L188.6,457.0 L189.6,456.9 L190.6,456.8 L191.6,456.7 L192.6,456.7 L193.6,456.6 L194.6,456.5 L195.6,456.4 L196.6,456.3 L197.6,456.2 L198.6,456.1 L199.6,456.1 L200.6,456.0 L201.6,455.9 L202.6,455.8 L203.6,455.7 L204.6,455.6 L205.6,455.5 L206.6,455.4 L207.6,455.3 L208.6,455.2 L209.6,455.1 L210.6,455.0 L211.6,454.9 L212.6,454.8 L213.6,454.7 L214.6,454.6 L215.6,454.5 L216.6,454.4 L217.6,454.3 L218.6,454.2 L219.6,454.1 L220.6,454.0 L221.6,453.9 L222.6,453.8 L223.6,453.7 L224.6,453.6 L225.6,453.5 L226.6,453.4 L227.6,453.3 L228.6,453.1 L229.6,453.0 L230.6,452.9 L231.6,452.8 L232.6,452.7 L233.6,452.6 L234.6,452.4 L235.6,452.3 L236.6,452.2 L237.6,452.1 L238.6,452.0 L239.6,451.8 L240.6,451.7 L241.6,451.6 L242.6,451.4 L243.6,451.3 L244.6,451.2 L245.6,451.1 L246.6,450.9 L247.6,450.8 L248.6,450.6 L249.6,450.5 L250.6,450.4 L251.6,450.2 L252.6,450.1 L253.6,449.9 L254.6,449.8 L255.6,449.6 L256.6,449.5 L257.6,449.3 L258.6,449.1 L259.6,449.0 L260.6,448.8 L261.6,448.6 L262.6,448.5 L263.6,448.3 L264.6,448.1 L265.6,447.9 L266.6,447.8 L267.6,447.6 L268.6,447.4 L269.6,447.2 L270.6,447.0 L271.6,446.8 L272.6,446.6 L273.6,446.4 L274.6,446.2 L275.6,446.0 L276.6,445.8 L277.6,445.6 L278.6,445.4 L279.6,445.1 L280.6,444.9 L281.6,444.7 L282.6,444.4 L283.6,444.2 L284.6,444.0 L285.6,443.7 L286.6,443.5 L287.6,443.2 L288.6,443.0 L289.6,442.7 L290.6,442.4 L291.6,442.2 L292.6,441.9 L293.6,441.6 L294.6,441.3 L295.6,441.1 L296.6,440.8 L297.6,440.5 L298.6,440.2 L299.6,439.9 L300.6,439.6 L301.6,439.3 L302.6,438.9 L303.6,438.6 L304.6,438.3 L305.6,438.0 L306.6,437.6 L307.6,437.3 L308.6,436.9 L309.6,436.6 L310.6,436.2 L311.6,435.9 L312.6,435.5 L313.6,435.1 L314.6,434.8 L315.6,434.4 L316.6,434.0 L317.6,433.6 L318.6,433.3 L319.6,432.9 L320.6,432.5 L321.6,432.1 L322.6,431.7 L323.6,431.3 L324.6,430.9 L325.6,430.4 L326.6,430.0 L327.6,429.6 L328.6,429.2 L329.6,428.8 L330.6,428.3 L331.6,427.9 L332.6,427.4 L333.6,427.0 L334.6,426.5 L335.6,426.1 L336.6,425.6 L337.6,425.2 L338.6,424.7 L339.6,424.2 L340.6,423.8 L341.6,423.3 L342.6,422.8 L343.6,422.3 L344.6,421.8 L345.6,421.3 L346.6,420.8 L347.6,420.3 L348.6,419.8 L349.6,419.3 L350.6,418.8 L351.6,418.3 L352.6,417.7 L353.6,417.2 L354.6,416.7 L355.6,416.1 L356.6,415.6 L357.6,415.1 L358.6,414.5 L359.6,414.0 L360.6,413.4 L361.6,412.9 L362.6,412.3 L363.6,411.8 L364.6,411.2 L365.6,410.6 L366.6,410.1 L367.6,409.5 L368.6,408.9 L369.6,408.4 L370.6,407.8 L371.6,407.2 L372.6,406.6 L373.6,406.1 L374.6,405.5 L375.6,404.9 L376.6,404.3 L377.6,403.7 L378.6,403.1 L379.6,402.5 L380.6,401.9 L381.6,401.3 L382.6,400.7 L383.6,400.1 L384.6,399.5 L385.6,398.9 L386.6,398.3 L387.6,397.7 L388.6,397.1 L389.6,396.5 L390.6,395.9 L391.6,395.3 L392.6,394.7 L393.6,394.1 L394.6,393.5 L395.6,392.9 L396.6,392.2 L397.6,391.6 L398.6,391.0 L399.6,390.4 L400.6,389.8 L401.6,389.2 L402.6,388.6 L403.6,388.0 L404.6,387.4 L405.6,386.8 L406.6,386.2 L407.6,385.6 L408.6,385.0 L409.6,384.4 L410.6,383.8 L411.6,383.2 L412.6,382.7 L413.6,382.1 L414.6,381.5 L415.6,381.0 L416.6,380.4 L417.6,379.9 L418.6,379.4 L419.6,378.9 L420.6,378.4 L421.6,377.9 L422.6,377.4 L423.6,376.9 L424.6,376.4 L425.6,375.9 L426.6,375.5 L427.6,375.1 L428.6,374.6 L429.6,374.2 L430.6,373.8 L431.6,373.4 L432.6,373.1 L433.6,372.7 L434.6,372.3 L435.6,372.0 L436.6,371.7 L437.6,371.4 L438.6,371.1 L439.6,370.8 L440.6,370.6 L441.6,370.4 L442.6,370.1 L443.6,369.9 L444.6,369.8 L445.6,369.6 L446.6,369.5 L447.6,369.3 L448.6,369.2 L449.6,369.1 L450.6,369.1 L451.6,369.0 L452.6,369.0 L453.6,369.0 L454.6,369.0 L455.6,369.0 L456.6,369.1 L457.6,369.1 L458.6,369.2 L459.6,369.3 L460.6,369.4 L461.6,369.6 L462.6,369.7 L463.6,369.9 L464.6,370.1 L465.6,370.3 L466.6,370.6 L467.6,370.8 L468.6,371.1 L469.6,371.4 L470.6,371.7 L471.6,372.0 L472.6,372.4 L473.6,372.7 L474.6,373.1 L475.6,373.5 L476.6,373.9 L477.6,374.4 L478.6,374.9 L479.6,375.3 L480.6,375.8 L481.6,376.4 L482.6,376.9 L483.6,377.5 L484.6,378.0 L485.6,378.6 L486.6,379.3 L487.6,379.9 L488.6,380.5 L489.6,381.2 L490.6,381.9 L491.6,383.6 L492.6,385.4 L493.6,385.5 L494.6,385.3 L495.6,385.6 L496.6,386.4 L497.6,387.2 L498.6,388.1 L499.6,388.9 L500.6,389.8 L501.6,390.6 L502.6,391.5 L503.6,392.4 L504.6,393.3 L505.6,394.2 L506.6,395.1 L507.6,396.0 L508.6,397.0 L509.6,397.9 L510.6,398.9 L511.6,399.8 L512.6,400.8 L513.6,401.8 L514.6,402.8 L515.6,403.7 L516.6,404.7 L517.6,405.7 L518.6,406.7 L519.6,407.7 L520.6,408.7 L521.6,409.8 L522.6,410.8 L523.6,411.8 L524.6,412.8 L525.6,413.8 L526.6,414.8 L527.6,415.8 L528.6,416.8 L529.6,417.8 L530.6,418.8 L531.6,419.8 L532.6,420.8 L533.6,421.8 L534.6,422.8 L535.6,423.8 L536.6,424.8 L537.6,425.8 L538.6,426.8 L539.6,427.7 L540.6,428.7 L541.6,429.7 L542.6,430.6 L543.6,431.6 L544.6,432.5 L545.6,433.4 L546.6,434.4 L547.6,435.3 L548.6,436.2 L549.6,437.1 L550.6,438.0 L551.6,438.9 L552.6,439.8 L553.6,440.7 L554.6,441.5 L555.6,442.4 L556.6,443.2 L557.6,444.1 L558.6,444.9 L559.6,445.7 L560.6,446.5 L561.6,447.3 L562.6,448.1 L563.6,448.9 L564.6,449.6 L565.6,450.4 L566.6,451.1 L567.6,451.9 L568.6,452.6 L569.6,453.3 L570.6,454.0 L571.6,454.7 L572.6,455.4 L573.6,456.1 L574.6,456.8 L575.6,457.4 L576.6,458.1 L577.6,458.7 L578.6,459.3 L579.6,460.0 L580.6,460.6 L581.6,461.2 L582.6,461.8 L583.6,462.4 L584.6,463.0 L585.6,463.6 L586.6,464.1 L587.6,464.7 L588.6,465.3 L589.6,465.8 L590.6,466.3 L591.6,466.9 L592.6,467.4 L593.6,467.9 L594.6,468.4 L595.6,468.9 L596.6,469.4 L597.6,469.9 L598.6,470.4 L599.6,470.9 L600.6,471.3 L601.6,471.8 L602.6,472.2 L603.6,472.7 L604.6,473.1 L605.6,473.6 L606.6,474.0 L607.6,474.4 L608.6,474.8 L609.6,475.2 L610.6,475.7 L611.6,476.1 L612.6,476.4 L613.6,476.8 L614.6,477.2 L615.6,477.6 L616.6,478.0 L617.6,478.3 L618.6,478.7 L619.6,479.0 L620.6,479.4 L621.6,479.7 L622.6,480.1 L623.6,480.4 L624.6,480.8 L625.6,481.1 L626.6,481.4 L627.6,481.7 L628.6,482.0 L629.6,482.3 L630.6,482.7 L631.6,483.0 L632.6,483.3 L633.6,483.5 L634.6,483.8 L635.6,484.1 L636.6,484.4 L637.6,484.7 L638.6,485.0 L639.6,485.2 L640.6,485.5 L641.6,485.8 L642.6,486.0 L643.6,486.3 L644.6,486.5 L645.6,486.8 L646.6,487.1 L646.9,487.1" stroke="#4a9a5e"/>
</g>
<g stroke="#000" stroke-width="2.4" fill="none" stroke-linecap="butt">
<rect x="63.5" y="22.0" width="607.9" height="490.6"/>
<line x1="63.5" y1="512.6" x2="63.5" y2="522.6"/>
<line x1="124.3" y1="512.6" x2="124.3" y2="522.6"/>
<line x1="185.1" y1="512.6" x2="185.1" y2="522.6"/>
<line x1="245.9" y1="512.6" x2="245.9" y2="522.6"/>
<line x1="306.7" y1="512.6" x2="306.7" y2="522.6"/>
<line x1="367.4" y1="512.6" x2="367.4" y2="522.6"/>
<line x1="428.2" y1="512.6" x2="428.2" y2="522.6"/>
<line x1="489.0" y1="512.6" x2="489.0" y2="522.6"/>
<line x1="549.8" y1="512.6" x2="549.8" y2="522.6"/>
<line x1="610.6" y1="512.6" x2="610.6" y2="522.6"/>
<line x1="671.4" y1="512.6" x2="671.4" y2="522.6"/>
<line x1="63.5" y1="512.6" x2="53.5" y2="512.6"/>
<line x1="63.5" y1="442.5" x2="53.5" y2="442.5"/>
<line x1="63.5" y1="372.4" x2="53.5" y2="372.4"/>
<line x1="63.5" y1="302.3" x2="53.5" y2="302.3"/>
<line x1="63.5" y1="232.3" x2="53.5" y2="232.3"/>
<line x1="63.5" y1="162.2" x2="53.5" y2="162.2"/>
<line x1="63.5" y1="92.1" x2="53.5" y2="92.1"/>
<line x1="63.5" y1="22.0" x2="53.5" y2="22.0"/>
</g>
<g font-weight="bold" font-size="16.5" fill="#000">
<text x="64.5" y="542.0" text-anchor="middle">1.5</text>
<text x="125.3" y="542.0" text-anchor="middle">2.0</text>
<text x="186.1" y="542.0" text-anchor="middle">2.5</text>
<text x="246.9" y="542.0" text-anchor="middle">3.0</text>
<text x="307.7" y="542.0" text-anchor="middle">3.5</text>
<text x="368.4" y="542.0" text-anchor="middle">4.0</text>
<text x="429.2" y="542.0" text-anchor="middle">4.5</text>
<text x="490.0" y="542.0" text-anchor="middle">5.0</text>
<text x="550.8" y="542.0" text-anchor="middle">5.5</text>
<text x="611.6" y="542.0" text-anchor="middle">6.0</text>
<text x="672.4" y="542.0" text-anchor="middle">6.5</text>
<text x="48.4" y="518.1" text-anchor="end">0</text>
<text x="48.4" y="448.0" text-anchor="end">2</text>
<text x="48.4" y="377.9" text-anchor="end">4</text>
<text x="48.4" y="307.8" text-anchor="end">6</text>
<text x="48.4" y="237.8" text-anchor="end">8</text>
<text x="48.4" y="167.7" text-anchor="end">10</text>
<text x="48.4" y="97.6" text-anchor="end">12</text>
<text x="48.4" y="27.5" text-anchor="end">14</text>
</g>
<text x="342.3" y="12.8" font-size="23" text-anchor="middle">a</text>
<text x="368" y="575" font-size="20.5" text-anchor="middle">Log(f)</text>
<text transform="translate(21.9,268.1) rotate(-90)" font-size="20.7" text-anchor="middle">tan δ</text>
<line x1="531.3" y1="36.1" x2="568.2" y2="36.1" stroke="#7d0000" stroke-width="4.6"/>
<text x="572.5" y="41.6" font-size="16.1">CGNHSCN8</text>
<line x1="531.3" y1="56.2" x2="568.2" y2="56.2" stroke="#ff00ff" stroke-width="4.6"/>
<text x="572.5" y="61.7" font-size="16.1">CGNHSCN16</text>
<line x1="531.3" y1="76.4" x2="568.2" y2="76.4" stroke="#4b6060" stroke-width="4.6"/>
<text x="572.5" y="81.9" font-size="16.1">CGNHSCN24</text>
<line x1="531.3" y1="96.5" x2="568.2" y2="96.5" stroke="#f03c3c" stroke-width="4.6"/>
<text x="572.5" y="102.0" font-size="16.1">CGNHSCN32</text>
<line x1="531.3" y1="116.6" x2="568.2" y2="116.6" stroke="#0000ff" stroke-width="4.6"/>
<text x="572.5" y="122.1" font-size="16.1">CGNHSCN40</text>
<line x1="531.3" y1="136.8" x2="568.2" y2="136.8" stroke="#4a9a5e" stroke-width="4.6"/>
<text x="572.5" y="142.2" font-size="16.1">CGNHSCN48</text>
<text x="390.15" y="45.9" font-size="16.2" text-anchor="middle" xml:space="preserve">Relaxation peak shifts to</text>
<text x="389.85" y="66.0" font-size="16.2" text-anchor="middle" xml:space="preserve">higher frequency  with</text>
<text x="388.00" y="86.2" font-size="16.2" text-anchor="middle" xml:space="preserve">increasing salt</text>
<text x="390.00" y="106.3" font-size="16.2" text-anchor="middle" xml:space="preserve">concentration</text>
<text x="323.5" y="214.4" font-size="16.2">Peak Shifting =</text>
<text x="428.7" y="214.4" font-size="19" font-weight="bold" fill="#0000ff">2.2</text>
<text x="458.7" y="286.0" font-size="18" font-weight="bold" fill="#0000ff">5.1</text>
<text x="302.0" y="358.5" font-size="17.6" font-weight="bold" fill="#0000ff">3.31</text>
<text x="141.5" y="343.1" font-size="13.8" text-anchor="middle">Relaxation peaks were not</text>
<text x="139.9" y="360.2" font-size="13.8" text-anchor="middle">visible at low salt content</text>
<text x="140.7" y="377.3" font-size="13.8" text-anchor="middle">due to being outside the</text>
<text x="141.2" y="394.4" font-size="13.8" text-anchor="middle">measured frequency range</text>
<g stroke="#000" stroke-width="0.9" fill="none">
<line x1="121.6" y1="328.5" x2="158.5" y2="233.5"/>
<line x1="480.4" y1="289.1" x2="496.4" y2="328"/>
<line x1="301.8" y1="362.5" x2="286" y2="403"/>
</g>
<polygon points="162.2,224.6 160.8,237.5 157.7,236.2 154.5,235.0" fill="#000"/>
<g stroke="#ff0000" stroke-width="1.55" fill="none">
<line x1="284.0" y1="135" x2="284.0" y2="409" stroke-width="1.4"/>
<line x1="501.9" y1="135" x2="501.9" y2="331.5" stroke-width="1.4"/>
<line x1="300.8" y1="120.9" x2="486" y2="120.9" stroke-dasharray="6.4 5.39"/>
<line x1="284.3" y1="511" x2="284.3" y2="424" stroke-dasharray="6.4 5.3"/>
<line x1="501.4" y1="511" x2="501.4" y2="352" stroke-dasharray="6.4 5.3"/>
<line x1="453.4" y1="509" x2="453.4" y2="383" stroke-dasharray="6.4 5.3"/>
<line x1="460.3" y1="509" x2="460.3" y2="376" stroke-dasharray="6.4 5.3"/>
</g>
<polygon points="284.1,123.6 289.0,139.6 284.1,134.9 279.2,139.6" fill="#ff0000"/>
<polygon points="501.8,123.0 506.6,138.8 501.8,134.1 497.0,138.8" fill="#ff0000"/>
<polygon points="286.6,120.9 303.1,115.9 297.9,120.9 303.1,125.9" fill="#ff0000"/>
<polygon points="497.9,121.0 482.0,125.8 486.8,121.0 482.0,116.2" fill="#ff0000"/>
<polygon points="284.3,411.5 289.1,427.0 284.3,422.0 279.5,427.0" fill="#ff0000"/>
<polygon points="501.4,340.4 506.2,355.4 501.4,350.4 496.6,355.4" fill="#ff0000"/>
<polygon points="453.4,371.1 458.2,386.4 453.4,381.6 448.6,386.4" fill="#ff0000"/>
<polygon points="460.3,363.8 465.1,379.8 460.3,374.8 455.5,379.8" fill="#ff0000"/>
<polyline points="110.8,1066.5 117.9,965.0 163.2,870.1 256.3,800.8 584.6,689.2 184.1,818.4" fill="none" stroke="#0000ff" stroke-width="5.4" stroke-linejoin="round"/>
<g stroke="#ff0000" stroke-width="1.5" fill="none">
<line x1="95.1" y1="687.2" x2="207" y2="687.2" stroke-dasharray="6.3 5.1"/>
<line x1="400.9" y1="689.5" x2="403" y2="689.5"/>
<line x1="406" y1="689.5" x2="579" y2="689.5" stroke-dasharray="6.4 5.28"/>
<line x1="583.65" y1="695.9" x2="583.65" y2="1091" stroke-dasharray="6.7 4.7"/>
</g>
<polygon points="76.1,687.2 92.6,683.0 89.6,687.2 92.6,691.4" fill="#ff0000"/>
<polygon points="583.6,1104.2 579.6,1088.4 583.6,1091.9 587.6,1088.4" fill="#ff0000"/>
<rect x="105.5" y="1061.2" width="10.5" height="10.5" fill="#ff0000"/>
<rect x="112.7" y="959.8" width="10.5" height="10.5" fill="#ff0000"/>
<rect x="157.9" y="864.9" width="10.5" height="10.5" fill="#ff0000"/>
<rect x="251.1" y="795.5" width="10.5" height="10.5" fill="#ff0000"/>
<rect x="579.4" y="684.0" width="10.5" height="10.5" fill="#ff0000"/>
<rect x="178.8" y="813.1" width="10.5" height="10.5" fill="#ff0000"/>
<rect x="206.8" y="676.7" width="191.2" height="21.9" fill="#ffff00"/>
<text x="209.0" y="693.5" font-size="15.6">Highest tan (δ) Peak Intensity</text>
<rect x="531" y="888" width="107" height="21.7" fill="#ffff00"/>
<text x="533.8" y="904.6" font-size="15.6">Highest (<tspan font-style="italic">f</tspan>) Shift</text>
<g stroke="#000" stroke-width="2.2" fill="none">
<rect x="71.6" y="642.0" width="588.0" height="473.0"/>
<line x1="110.8" y1="1115.0" x2="110.8" y2="1124.2"/>
<line x1="189.2" y1="1115.0" x2="189.2" y2="1124.2"/>
<line x1="267.6" y1="1115.0" x2="267.6" y2="1124.2"/>
<line x1="346.0" y1="1115.0" x2="346.0" y2="1124.2"/>
<line x1="424.4" y1="1115.0" x2="424.4" y2="1124.2"/>
<line x1="502.8" y1="1115.0" x2="502.8" y2="1124.2"/>
<line x1="581.2" y1="1115.0" x2="581.2" y2="1124.2"/>
<line x1="659.6" y1="1115.0" x2="659.6" y2="1124.2"/>
<line x1="71.6" y1="1083.5" x2="62.0" y2="1083.5"/>
<line x1="71.6" y1="1020.4" x2="62.0" y2="1020.4"/>
<line x1="71.6" y1="957.3" x2="62.0" y2="957.3"/>
<line x1="71.6" y1="894.3" x2="62.0" y2="894.3"/>
<line x1="71.6" y1="831.2" x2="62.0" y2="831.2"/>
<line x1="71.6" y1="768.1" x2="62.0" y2="768.1"/>
<line x1="71.6" y1="705.1" x2="62.0" y2="705.1"/>
<line x1="71.6" y1="642.0" x2="62.0" y2="642.0"/>
</g>
<g font-weight="bold" font-size="15.9" fill="#000">
<text x="111.3" y="1142.7" text-anchor="middle">0</text>
<text x="189.7" y="1142.7" text-anchor="middle">20000</text>
<text x="268.1" y="1142.7" text-anchor="middle">40000</text>
<text x="346.5" y="1142.7" text-anchor="middle">60000</text>
<text x="424.9" y="1142.7" text-anchor="middle">80000</text>
<text x="503.3" y="1142.7" text-anchor="middle">100000</text>
<text x="581.7" y="1142.7" text-anchor="middle">120000</text>
<text x="660.1" y="1142.7" text-anchor="middle">140000</text>
<text x="55.8" y="1088.7" text-anchor="end">2.0</text>
<text x="55.8" y="1025.6" text-anchor="end">2.5</text>
<text x="55.8" y="962.5" text-anchor="end">3.0</text>
<text x="55.8" y="899.5" text-anchor="end">3.5</text>
<text x="55.8" y="836.4" text-anchor="end">4.0</text>
<text x="55.8" y="773.3" text-anchor="end">4.5</text>
<text x="55.8" y="710.3" text-anchor="end">5.0</text>
<text x="55.8" y="647.2" text-anchor="end">5.5</text>
</g>
<text x="342.5" y="635.4" font-size="23" text-anchor="middle">b</text>
<text x="352.85" y="1176.8" font-size="20.2" text-anchor="middle">tan δ Peaks Frequency Shiftting (Hz)</text>
<text transform="translate(15.5,878.2) rotate(-90)" font-size="19.95" text-anchor="middle">tan δ Peaks Intensity</text>
<rect x="75.2" y="650.9" width="174.6" height="21.4" fill="#fff" stroke="#222" stroke-width="0.9"/>
<line x1="77.5" y1="661.3" x2="113.1" y2="661.3" stroke="#0000ff" stroke-width="5.2"/>
<rect x="89.8" y="656.05" width="10.5" height="10.5" fill="#ff0000"/>
<text x="117.3" y="666.3" font-size="15.6">tan δ Peaks Intensity</text>
<text x="90.4" y="822.0" font-size="14.2" font-weight="bold" letter-spacing="-0.42">NH<tspan font-size="9.5" dy="3.4">4</tspan><tspan dy="-3.4">SCN</tspan><tspan letter-spacing="-0.36" word-spacing="0.4"> 48%</tspan></text>
<text x="177.1" y="885.9" font-size="14.2" font-weight="bold" letter-spacing="-0.42">NH<tspan font-size="9.5" dy="3.4">4</tspan><tspan dy="-3.4">SCN</tspan><tspan letter-spacing="-0.36" word-spacing="0.4"> 24%</tspan></text>
<text x="259.4" y="821.9" font-size="14.2" font-weight="bold" letter-spacing="-0.42">NH<tspan font-size="9.5" dy="3.4">4</tspan><tspan dy="-3.4">SCN</tspan><tspan letter-spacing="-0.36" word-spacing="0.4"> 32%</tspan></text>
<text x="128.6" y="974.7" font-size="14.2" font-weight="bold" letter-spacing="-0.42">NH<tspan font-size="9.5" dy="3.4">4</tspan><tspan dy="-3.4">SCN</tspan><tspan letter-spacing="-0.36" word-spacing="0.4"> 16%</tspan></text>
<text x="119.9" y="1071.6" font-size="14.2" font-weight="bold" letter-spacing="-0.42">NH<tspan font-size="9.5" dy="3.4">4</tspan><tspan dy="-3.4">SCN</tspan><tspan letter-spacing="-0.36" word-spacing="0.4"> 8%</tspan></text>
<text x="544.9" y="675.4" font-size="14.2" font-weight="bold" letter-spacing="-0.42">NH<tspan font-size="9.5" dy="3.4">4</tspan><tspan dy="-3.4">SCN</tspan><tspan letter-spacing="-0.36" word-spacing="0.4"> 40%</tspan></text>
</svg>
</body></html>
